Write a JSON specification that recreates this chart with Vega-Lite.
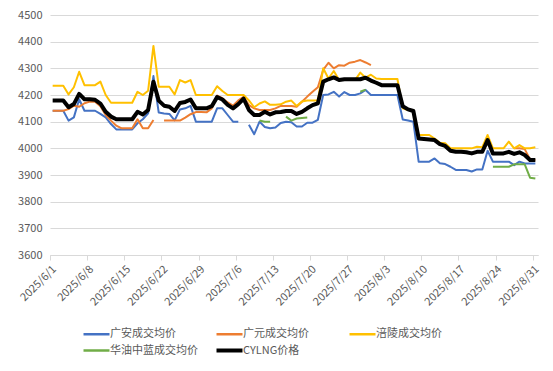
{
  "$schema": "https://vega.github.io/schema/vega-lite/v6.json",
  "width": 488,
  "height": 240,
  "autosize": {"type": "none"},
  "padding": {"left": 50, "top": 15, "right": 15, "bottom": 116},
  "background": "white",
  "config": {
    "font": "Noto Sans CJK SC",
    "view": {"stroke": null},
    "legend": {"symbolSize": 676, "symbolType": "stroke", "symbolStrokeWidth": 2.5}
  },
  "data": {
    "values": [
      {"date": "2025-06-01T12:00:00", "广安成交均价": 4141, "广元成交均价": 4141, "涪陵成交均价": 4235, "华油中蓝成交均价": null, "CYLNG价格": 4179},
      {"date": "2025-06-02T12:00:00", "广安成交均价": 4141, "广元成交均价": 4141, "涪陵成交均价": 4235, "华油中蓝成交均价": null, "CYLNG价格": 4179},
      {"date": "2025-06-03T12:00:00", "广安成交均价": 4141, "广元成交均价": 4141, "涪陵成交均价": 4235, "华油中蓝成交均价": null, "CYLNG价格": 4179},
      {"date": "2025-06-04T12:00:00", "广安成交均价": 4104, "广元成交均价": 4147, "涪陵成交均价": 4202, "华油中蓝成交均价": null, "CYLNG价格": 4154},
      {"date": "2025-06-05T12:00:00", "广安成交均价": 4116, "广元成交均价": 4160, "涪陵成交均价": 4229, "华油中蓝成交均价": null, "CYLNG价格": 4166},
      {"date": "2025-06-06T12:00:00", "广安成交均价": 4184, "广元成交均价": 4156, "涪陵成交均价": 4287, "华油中蓝成交均价": null, "CYLNG价格": 4204},
      {"date": "2025-06-07T12:00:00", "广安成交均价": 4141, "广元成交均价": 4169, "涪陵成交均价": 4237, "华油中蓝成交均价": null, "CYLNG价格": 4184},
      {"date": "2025-06-08T12:00:00", "广安成交均价": 4141, "广元成交均价": 4175, "涪陵成交均价": 4237, "华油中蓝成交均价": null, "CYLNG价格": 4184},
      {"date": "2025-06-09T12:00:00", "广安成交均价": 4141, "广元成交均价": 4175, "涪陵成交均价": 4237, "华油中蓝成交均价": null, "CYLNG价格": 4182},
      {"date": "2025-06-10T12:00:00", "广安成交均价": 4129, "广元成交均价": 4158, "涪陵成交均价": 4250, "华油中蓝成交均价": null, "CYLNG价格": 4168},
      {"date": "2025-06-11T12:00:00", "广安成交均价": 4116, "广元成交均价": 4125, "涪陵成交均价": 4200, "华油中蓝成交均价": null, "CYLNG价格": 4137},
      {"date": "2025-06-12T12:00:00", "广安成交均价": 4091, "广元成交均价": 4104, "涪陵成交均价": 4171, "华油中蓝成交均价": null, "CYLNG价格": 4119},
      {"date": "2025-06-13T12:00:00", "广安成交均价": 4071, "广元成交均价": 4085, "涪陵成交均价": 4171, "华油中蓝成交均价": null, "CYLNG价格": 4109},
      {"date": "2025-06-14T12:00:00", "广安成交均价": 4071, "广元成交均价": 4075, "涪陵成交均价": 4171, "华油中蓝成交均价": null, "CYLNG价格": 4109},
      {"date": "2025-06-15T12:00:00", "广安成交均价": 4071, "广元成交均价": 4075, "涪陵成交均价": 4171, "华油中蓝成交均价": null, "CYLNG价格": 4109},
      {"date": "2025-06-16T12:00:00", "广安成交均价": 4071, "广元成交均价": 4075, "涪陵成交均价": 4171, "华油中蓝成交均价": null, "CYLNG价格": 4109},
      {"date": "2025-06-17T12:00:00", "广安成交均价": 4094, "广元成交均价": 4109, "涪陵成交均价": 4212, "华油中蓝成交均价": null, "CYLNG价格": 4137},
      {"date": "2025-06-18T12:00:00", "广安成交均价": 4109, "广元成交均价": 4075, "涪陵成交均价": 4200, "华油中蓝成交均价": null, "CYLNG价格": 4127},
      {"date": "2025-06-19T12:00:00", "广安成交均价": 4131, "广元成交均价": 4075, "涪陵成交均价": 4216, "华油中蓝成交均价": null, "CYLNG价格": 4144},
      {"date": "2025-06-20T12:00:00", "广安成交均价": 4271, "广元成交均价": 4106, "涪陵成交均价": 4384, "华油中蓝成交均价": null, "CYLNG价格": 4250},
      {"date": "2025-06-21T12:00:00", "广安成交均价": 4134, "广元成交均价": null, "涪陵成交均价": 4231, "华油中蓝成交均价": null, "CYLNG价格": 4179},
      {"date": "2025-06-22T12:00:00", "广安成交均价": 4131, "广元成交均价": 4104, "涪陵成交均价": 4231, "华油中蓝成交均价": null, "CYLNG价格": 4160},
      {"date": "2025-06-23T12:00:00", "广安成交均价": 4129, "广元成交均价": 4104, "涪陵成交均价": 4231, "华油中蓝成交均价": null, "CYLNG价格": 4156},
      {"date": "2025-06-24T12:00:00", "广安成交均价": 4105, "广元成交均价": 4104, "涪陵成交均价": 4202, "华油中蓝成交均价": null, "CYLNG价格": 4140},
      {"date": "2025-06-25T12:00:00", "广安成交均价": 4146, "广元成交均价": 4104, "涪陵成交均价": 4256, "华油中蓝成交均价": null, "CYLNG价格": 4170},
      {"date": "2025-06-26T12:00:00", "广安成交均价": 4150, "广元成交均价": 4115, "涪陵成交均价": 4247, "华油中蓝成交均价": null, "CYLNG价格": 4174},
      {"date": "2025-06-27T12:00:00", "广安成交均价": 4159, "广元成交均价": 4128, "涪陵成交均价": 4256, "华油中蓝成交均价": null, "CYLNG价格": 4183},
      {"date": "2025-06-28T12:00:00", "广安成交均价": 4100, "广元成交均价": 4136, "涪陵成交均价": 4200, "华油中蓝成交均价": null, "CYLNG价格": 4150},
      {"date": "2025-06-29T12:00:00", "广安成交均价": 4100, "广元成交均价": 4136, "涪陵成交均价": 4200, "华油中蓝成交均价": null, "CYLNG价格": 4150},
      {"date": "2025-06-30T12:00:00", "广安成交均价": 4100, "广元成交均价": 4135, "涪陵成交均价": 4200, "华油中蓝成交均价": null, "CYLNG价格": 4150},
      {"date": "2025-07-01T12:00:00", "广安成交均价": 4100, "广元成交均价": 4150, "涪陵成交均价": 4200, "华油中蓝成交均价": null, "CYLNG价格": 4158},
      {"date": "2025-07-02T12:00:00", "广安成交均价": 4150, "广元成交均价": 4198, "涪陵成交均价": 4233, "华油中蓝成交均价": null, "CYLNG价格": 4192},
      {"date": "2025-07-03T12:00:00", "广安成交均价": 4150, "广元成交均价": 4188, "涪陵成交均价": 4215, "华油中蓝成交均价": null, "CYLNG价格": 4183},
      {"date": "2025-07-04T12:00:00", "广安成交均价": 4125, "广元成交均价": 4172, "涪陵成交均价": 4200, "华油中蓝成交均价": null, "CYLNG价格": 4163},
      {"date": "2025-07-05T12:00:00", "广安成交均价": 4100, "广元成交均价": 4160, "涪陵成交均价": 4200, "华油中蓝成交均价": null, "CYLNG价格": 4150},
      {"date": "2025-07-06T12:00:00", "广安成交均价": 4100, "广元成交均价": 4180, "涪陵成交均价": 4200, "华油中蓝成交均价": null, "CYLNG价格": 4166},
      {"date": "2025-07-07T12:00:00", "广安成交均价": null, "广元成交均价": 4193, "涪陵成交均价": 4200, "华油中蓝成交均价": null, "CYLNG价格": 4186},
      {"date": "2025-07-08T12:00:00", "广安成交均价": 4088, "广元成交均价": 4162, "涪陵成交均价": 4180, "华油中蓝成交均价": null, "CYLNG价格": 4144},
      {"date": "2025-07-09T12:00:00", "广安成交均价": 4053, "广元成交均价": 4150, "涪陵成交均价": 4154, "华油中蓝成交均价": null, "CYLNG价格": 4125},
      {"date": "2025-07-10T12:00:00", "广安成交均价": 4100, "广元成交均价": 4144, "涪陵成交均价": 4168, "华油中蓝成交均价": 4104, "CYLNG价格": 4125},
      {"date": "2025-07-11T12:00:00", "广安成交均价": 4080, "广元成交均价": 4144, "涪陵成交均价": 4176, "华油中蓝成交均价": 4100, "CYLNG价格": 4137},
      {"date": "2025-07-12T12:00:00", "广安成交均价": 4075, "广元成交均价": 4144, "涪陵成交均价": 4163, "华油中蓝成交均价": 4100, "CYLNG价格": 4127},
      {"date": "2025-07-13T12:00:00", "广安成交均价": 4078, "广元成交均价": 4150, "涪陵成交均价": 4163, "华油中蓝成交均价": null, "CYLNG价格": 4135},
      {"date": "2025-07-14T12:00:00", "广安成交均价": 4095, "广元成交均价": 4159, "涪陵成交均价": 4165, "华油中蓝成交均价": null, "CYLNG价格": 4136},
      {"date": "2025-07-15T12:00:00", "广安成交均价": 4100, "广元成交均价": 4159, "涪陵成交均价": 4175, "华油中蓝成交均价": 4119, "CYLNG价格": 4140},
      {"date": "2025-07-16T12:00:00", "广安成交均价": 4098, "广元成交均价": 4159, "涪陵成交均价": 4179, "华油中蓝成交均价": 4104, "CYLNG价格": 4140},
      {"date": "2025-07-17T12:00:00", "广安成交均价": 4082, "广元成交均价": 4156, "涪陵成交均价": 4159, "华油中蓝成交均价": 4112, "CYLNG价格": 4129},
      {"date": "2025-07-18T12:00:00", "广安成交均价": 4082, "广元成交均价": 4175, "涪陵成交均价": 4176, "华油中蓝成交均价": 4114, "CYLNG价格": 4137},
      {"date": "2025-07-19T12:00:00", "广安成交均价": 4096, "广元成交均价": 4194, "涪陵成交均价": 4179, "华油中蓝成交均价": 4116, "CYLNG价格": 4150},
      {"date": "2025-07-20T12:00:00", "广安成交均价": 4096, "广元成交均价": 4212, "涪陵成交均价": 4179, "华油中蓝成交均价": null, "CYLNG价格": 4162},
      {"date": "2025-07-21T12:00:00", "广安成交均价": 4107, "广元成交均价": 4229, "涪陵成交均价": 4179, "华油中蓝成交均价": null, "CYLNG价格": 4169},
      {"date": "2025-07-22T12:00:00", "广安成交均价": 4200, "广元成交均价": 4294, "涪陵成交均价": 4300, "华油中蓝成交均价": null, "CYLNG价格": 4250},
      {"date": "2025-07-23T12:00:00", "广安成交均价": 4202, "广元成交均价": 4321, "涪陵成交均价": 4262, "华油中蓝成交均价": null, "CYLNG价格": 4259},
      {"date": "2025-07-24T12:00:00", "广安成交均价": 4212, "广元成交均价": 4300, "涪陵成交均价": 4290, "华油中蓝成交均价": null, "CYLNG价格": 4266},
      {"date": "2025-07-25T12:00:00", "广安成交均价": 4194, "广元成交均价": 4312, "涪陵成交均价": 4256, "华油中蓝成交均价": null, "CYLNG价格": 4256},
      {"date": "2025-07-26T12:00:00", "广安成交均价": 4211, "广元成交均价": 4310, "涪陵成交均价": 4256, "华油中蓝成交均价": null, "CYLNG价格": 4259},
      {"date": "2025-07-27T12:00:00", "广安成交均价": 4200, "广元成交均价": 4321, "涪陵成交均价": 4256, "华油中蓝成交均价": null, "CYLNG价格": 4259},
      {"date": "2025-07-28T12:00:00", "广安成交均价": 4200, "广元成交均价": 4325, "涪陵成交均价": 4256, "华油中蓝成交均价": null, "CYLNG价格": 4259},
      {"date": "2025-07-29T12:00:00", "广安成交均价": 4206, "广元成交均价": 4331, "涪陵成交均价": 4284, "华油中蓝成交均价": 4212, "CYLNG价格": 4259},
      {"date": "2025-07-30T12:00:00", "广安成交均价": 4219, "广元成交均价": 4322, "涪陵成交均价": 4265, "华油中蓝成交均价": 4220, "CYLNG价格": 4265},
      {"date": "2025-07-31T12:00:00", "广安成交均价": 4200, "广元成交均价": 4312, "涪陵成交均价": 4276, "华油中蓝成交均价": null, "CYLNG价格": 4254},
      {"date": "2025-08-01T12:00:00", "广安成交均价": 4200, "广元成交均价": null, "涪陵成交均价": 4262, "华油中蓝成交均价": null, "CYLNG价格": 4246},
      {"date": "2025-08-02T12:00:00", "广安成交均价": 4200, "广元成交均价": null, "涪陵成交均价": 4260, "华油中蓝成交均价": null, "CYLNG价格": 4237},
      {"date": "2025-08-03T12:00:00", "广安成交均价": 4200, "广元成交均价": null, "涪陵成交均价": 4260, "华油中蓝成交均价": null, "CYLNG价格": 4237},
      {"date": "2025-08-04T12:00:00", "广安成交均价": 4200, "广元成交均价": null, "涪陵成交均价": 4260, "华油中蓝成交均价": null, "CYLNG价格": 4237},
      {"date": "2025-08-05T12:00:00", "广安成交均价": 4200, "广元成交均价": null, "涪陵成交均价": 4260, "华油中蓝成交均价": null, "CYLNG价格": 4237},
      {"date": "2025-08-06T12:00:00", "广安成交均价": 4108, "广元成交均价": null, "涪陵成交均价": 4150, "华油中蓝成交均价": null, "CYLNG价格": 4158},
      {"date": "2025-08-07T12:00:00", "广安成交均价": 4104, "广元成交均价": null, "涪陵成交均价": 4144, "华油中蓝成交均价": null, "CYLNG价格": 4146},
      {"date": "2025-08-08T12:00:00", "广安成交均价": 4100, "广元成交均价": null, "涪陵成交均价": 4144, "华油中蓝成交均价": null, "CYLNG价格": 4140},
      {"date": "2025-08-09T12:00:00", "广安成交均价": 3950, "广元成交均价": null, "涪陵成交均价": 4050, "华油中蓝成交均价": null, "CYLNG价格": 4037},
      {"date": "2025-08-10T12:00:00", "广安成交均价": 3950, "广元成交均价": null, "涪陵成交均价": 4050, "华油中蓝成交均价": null, "CYLNG价格": 4035},
      {"date": "2025-08-11T12:00:00", "广安成交均价": 3950, "广元成交均价": null, "涪陵成交均价": 4050, "华油中蓝成交均价": null, "CYLNG价格": 4033},
      {"date": "2025-08-12T12:00:00", "广安成交均价": 3962, "广元成交均价": null, "涪陵成交均价": 4037, "华油中蓝成交均价": null, "CYLNG价格": 4031},
      {"date": "2025-08-13T12:00:00", "广安成交均价": 3944, "广元成交均价": null, "涪陵成交均价": 4021, "华油中蓝成交均价": null, "CYLNG价格": 4016},
      {"date": "2025-08-14T12:00:00", "广安成交均价": 3941, "广元成交均价": null, "涪陵成交均价": 4019, "华油中蓝成交均价": null, "CYLNG价格": 4009},
      {"date": "2025-08-15T12:00:00", "广安成交均价": 3931, "广元成交均价": null, "涪陵成交均价": 4000, "华油中蓝成交均价": null, "CYLNG价格": 3991},
      {"date": "2025-08-16T12:00:00", "广安成交均价": 3919, "广元成交均价": null, "涪陵成交均价": 4000, "华油中蓝成交均价": null, "CYLNG价格": 3987},
      {"date": "2025-08-17T12:00:00", "广安成交均价": 3919, "广元成交均价": null, "涪陵成交均价": 4000, "华油中蓝成交均价": null, "CYLNG价格": 3987},
      {"date": "2025-08-18T12:00:00", "广安成交均价": 3919, "广元成交均价": null, "涪陵成交均价": 4000, "华油中蓝成交均价": null, "CYLNG价格": 3985},
      {"date": "2025-08-19T12:00:00", "广安成交均价": 3913, "广元成交均价": null, "涪陵成交均价": 4000, "华油中蓝成交均价": null, "CYLNG价格": 3981},
      {"date": "2025-08-20T12:00:00", "广安成交均价": 3921, "广元成交均价": null, "涪陵成交均价": 4006, "华油中蓝成交均价": null, "CYLNG价格": 3987},
      {"date": "2025-08-21T12:00:00", "广安成交均价": 3921, "广元成交均价": null, "涪陵成交均价": 4004, "华油中蓝成交均价": null, "CYLNG价格": 3987},
      {"date": "2025-08-22T12:00:00", "广安成交均价": 3991, "广元成交均价": null, "涪陵成交均价": 4050, "华油中蓝成交均价": null, "CYLNG价格": 4031},
      {"date": "2025-08-23T12:00:00", "广安成交均价": 3950, "广元成交均价": null, "涪陵成交均价": 4000, "华油中蓝成交均价": 3931, "CYLNG价格": 3981},
      {"date": "2025-08-24T12:00:00", "广安成交均价": 3950, "广元成交均价": null, "涪陵成交均价": 4000, "华油中蓝成交均价": 3931, "CYLNG价格": 3981},
      {"date": "2025-08-25T12:00:00", "广安成交均价": 3950, "广元成交均价": null, "涪陵成交均价": 4000, "华油中蓝成交均价": 3931, "CYLNG价格": 3981},
      {"date": "2025-08-26T12:00:00", "广安成交均价": 3950, "广元成交均价": null, "涪陵成交均价": 4025, "华油中蓝成交均价": 3931, "CYLNG价格": 3987},
      {"date": "2025-08-27T12:00:00", "广安成交均价": 3937, "广元成交均价": 4000, "涪陵成交均价": 4000, "华油中蓝成交均价": 3940, "CYLNG价格": 3979},
      {"date": "2025-08-28T12:00:00", "广安成交均价": 3950, "广元成交均价": 4000, "涪陵成交均价": 4012, "华油中蓝成交均价": 3940, "CYLNG价格": 3985},
      {"date": "2025-08-29T12:00:00", "广安成交均价": 3943, "广元成交均价": 3997, "涪陵成交均价": 4000, "华油中蓝成交均价": 3940, "CYLNG价格": 3975},
      {"date": "2025-08-30T12:00:00", "广安成交均价": 3943, "广元成交均价": 3958, "涪陵成交均价": 4000, "华油中蓝成交均价": 3890, "CYLNG价格": 3956},
      {"date": "2025-08-31T12:00:00", "广安成交均价": 3943, "广元成交均价": 3956, "涪陵成交均价": 4004, "华油中蓝成交均价": 3887, "CYLNG价格": 3956}
    ]
  },
  "transform": [
    {"fold": ["广安成交均价", "广元成交均价", "涪陵成交均价", "华油中蓝成交均价", "CYLNG价格"], "as": ["series", "price"]}
  ],
  "encoding": {
    "x": {
      "field": "date",
      "type": "temporal",
      "scale": {"domain": [{"year": 2025, "month": 6, "date": 1}, {"year": 2025, "month": 9, "date": 1}]},
      "axis": {
        "title": null,
        "grid": false,
        "values": [
          {"year": 2025, "month": 6, "date": 1}, {"year": 2025, "month": 6, "date": 8},
          {"year": 2025, "month": 6, "date": 15}, {"year": 2025, "month": 6, "date": 22},
          {"year": 2025, "month": 6, "date": 29}, {"year": 2025, "month": 7, "date": 6},
          {"year": 2025, "month": 7, "date": 13}, {"year": 2025, "month": 7, "date": 20},
          {"year": 2025, "month": 7, "date": 27}, {"year": 2025, "month": 8, "date": 3},
          {"year": 2025, "month": 8, "date": 10}, {"year": 2025, "month": 8, "date": 17},
          {"year": 2025, "month": 8, "date": 24}, {"year": 2025, "month": 8, "date": 31}
        ],
        "format": "%Y/%-m/%-d",
        "labelAngle": -45,
        "labelFontSize": 11,
        "labelColor": "#595959",
        "labelPadding": 3,
        "domainColor": "#d9d9d9",
        "tickColor": "#d9d9d9",
        "tickSize": 5,
        "labelOverlap": false,
        "labelFlush": false
      }
    },
    "y": {
      "field": "price",
      "type": "quantitative",
      "scale": {"domain": [3600, 4500], "zero": false, "nice": false},
      "axis": {
        "title": null,
        "values": [3600, 3700, 3800, 3900, 4000, 4100, 4200, 4300, 4400, 4500],
        "format": "d",
        "domain": false,
        "ticks": false,
        "gridColor": "#d9d9d9",
        "labelFontSize": 11,
        "labelColor": "#595959",
        "labelPadding": 8
      }
    },
    "color": {
      "field": "series",
      "type": "nominal",
      "scale": {
        "domain": ["广安成交均价", "广元成交均价", "涪陵成交均价", "华油中蓝成交均价", "CYLNG价格"],
        "range": ["#4472C4", "#ED7D31", "#FFC000", "#70AD47", "#000000"]
      },
      "legend": {
        "title": null,
        "orient": "none",
        "legendX": 41,
        "legendY": 312,
        "direction": "horizontal",
        "columns": 3,
        "gridAlign": "all",
        "labelFontSize": 11,
        "labelColor": "#595959",
        "labelOffset": 8,
        "columnPadding": 10,
        "rowPadding": 1,
        "encode": {
          "symbols": {
            "update": {
              "strokeWidth": {"signal": "datum.value === 'CYLNG价格' ? 4 : 2.5"}
            }
          }
        }
      }
    }
  },
  "layer": [
    {
      "transform": [{"filter": "datum.series !== 'CYLNG价格'"}],
      "mark": {"type": "line", "strokeJoin": "round", "strokeWidth": 2}
    },
    {
      "transform": [{"filter": "datum.series === 'CYLNG价格'"}],
      "mark": {"type": "line", "strokeJoin": "round", "strokeWidth": 4}
    }
  ]
}
